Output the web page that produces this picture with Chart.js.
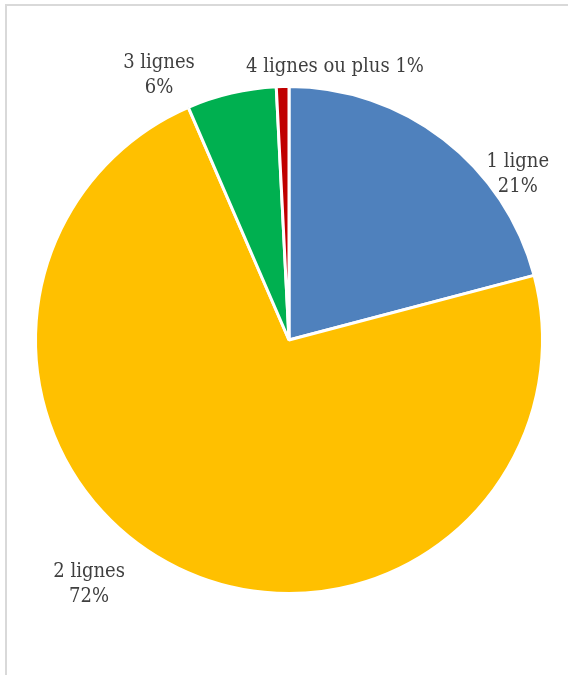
<!DOCTYPE html>
<html>
<head>
<meta charset="utf-8">
<script src="https://cdn.jsdelivr.net/npm/chart.js@4.4.1/dist/chart.umd.min.js"></script>
<style>
  html, body { margin: 0; padding: 0; background: #fff; }
  #wrap { position: relative; width: 568px; height: 675px; overflow: hidden; }
  #frame { position: absolute; left: 5px; top: 4px; width: 600px; height: 700px;
           border-left: 2px solid #d9d9d9; border-top: 2px solid #d9d9d9; box-sizing: border-box; }
  canvas { position: absolute; left: 0; top: 0; }
</style>
</head>
<body>
<div id="wrap">
  <div id="frame"></div>
  <canvas id="pie" width="568" height="675"></canvas>
</div>
<script>
// categories and values
const categories = ['1 ligne', '2 lignes', '3 lignes', '4 lignes ou plus'];
const shares = [20.9, 72.6, 5.7, 0.8];
const shownPercents = ['21%', '72%', '6%', '1%'];
const sliceColors = ['#4f81bd', '#ffc000', '#00b050', '#c00000'];

// where each label sits: angle from top (deg, clockwise), distance as a factor of the radius
const labelAngles = [53.7, 219.5, 334, 9.5];
const labelDistance = [1.12, 1.24, 1.17, 1.10];
const labelOneLine = [false, false, false, true];

const pieLabels = {
    id: 'pieLabels',
    afterDatasetsDraw(chart) {
        const ctx = chart.ctx;
        const arcs = chart.getDatasetMeta(0).data;
        ctx.save();
        ctx.font = '20px "DejaVu Serif Condensed", "DejaVu Serif"';
        ctx.fillStyle = '#3f3f3f';
        ctx.textAlign = 'center';
        ctx.textBaseline = 'middle';
        arcs.forEach((arc, i) => {
            const a = labelAngles[i] * Math.PI / 180;
            const r = arc.outerRadius * labelDistance[i];
            const x = arc.x + Math.sin(a) * r;
            const y = arc.y - Math.cos(a) * r + 2;
            if (labelOneLine[i]) {
                ctx.fillText(categories[i] + ' ' + shownPercents[i], x, y);
            } else {
                ctx.fillText(categories[i], x, y - 12.5);
                ctx.fillText(shownPercents[i], x, y + 12.5);
            }
        });
        ctx.restore();
    }
};

new Chart(document.getElementById('pie').getContext('2d'), {
    type: 'pie',
    data: {
        labels: categories,
        datasets: [{
            data: shares,
            backgroundColor: sliceColors,
            borderColor: '#ffffff',
            borderWidth: 3
        }]
    },
    options: {
        responsive: false,
        animation: false,
        layout: { padding: { left: 34, right: 24, top: 85, bottom: 80 } },
        plugins: {
            legend: { display: false },
            tooltip: { enabled: false }
        }
    },
    plugins: [pieLabels]
});
</script>
</body>
</html>
